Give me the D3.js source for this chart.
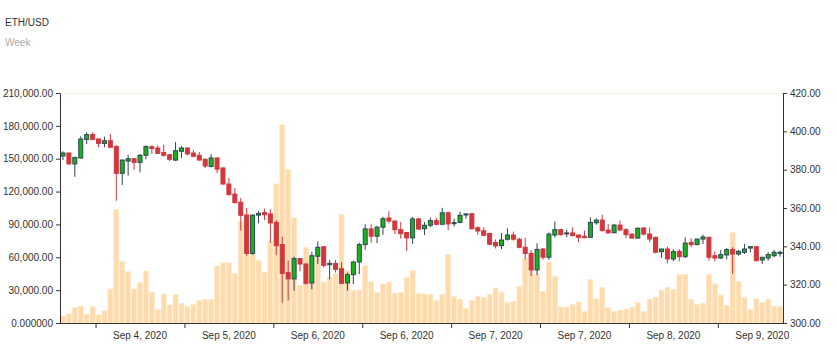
<!DOCTYPE html>
<html>
<head>
<meta charset="utf-8">
<script src="https://cdn.jsdelivr.net/npm/d3@7"></script>
<style>
  body { margin: 0; background: #fff; }
  text { font-family: "Liberation Sans", Arial, sans-serif; }
</style>
</head>
<body>
<div id="chart-container"></div>
<script>
const width = 837;
const height = 352;
const margin = { top: 93, right: 54, bottom: 29, left: 60 };

// price candles (USD)
const opens = [387.1,388.7,383.0,386.1,395.8,398.3,396.0,393.7,395.1,392.0,378.1,384.5,385.7,383.8,387.5,392.0,391.3,388.9,387.8,385.0,389.6,391.3,388.7,387.5,385.4,381.7,386.1,380.9,372.5,367.3,363.0,356.3,336.3,356.3,357.6,356.9,352.5,340.9,326.3,323.0,333.6,330.8,320.9,334.8,339.8,330.4,331.1,328.3,320.9,325.2,331.8,340.9,349.1,345.3,350.0,354.8,353.2,348.7,347.2,344.4,354.3,349.2,351.0,353.4,351.5,357.5,351.8,352.5,356.4,357.0,349.7,348.1,346.7,342.0,340.4,343.7,345.9,343.7,339.5,336.3,327.7,338.6,334.3,345.9,348.7,346.9,347.0,345.9,345.2,344.7,352.3,353.7,348.5,347.1,351.1,348.7,346.4,344.3,349.6,346.4,344.7,337.2,338.6,333.4,337.4,334.6,342.1,340.9,343.8,344.7,335.1,333.9,335.5,338.3,336.0,336.9,339.1,339.8,332.9,333.9,335.1,336.3];
const highs = [389.6,388.9,386.6,397.4,399.5,399.5,396.2,397.2,398.6,393.0,385.3,387.8,385.9,388.2,392.7,392.7,392.7,393.0,388.2,394.4,392.3,391.7,390.3,389.2,385.9,388.2,386.4,381.2,375.7,370.4,365.2,360.0,356.5,358.3,359.7,359.3,353.7,345.0,332.5,334.6,333.9,331.1,337.2,342.6,339.8,332.9,332.9,331.8,326.3,332.5,341.9,351.5,351.5,350.6,355.4,358.3,353.6,352.7,347.5,355.3,354.9,352.7,355.0,354.9,360.1,358.1,354.5,358.2,357.1,357.4,350.4,349.9,347.2,343.6,346.9,349.4,347.7,344.5,344.5,338.1,341.6,339.1,347.3,352.9,348.9,348.5,349.9,346.1,348.2,355.1,354.6,356.5,351.7,351.7,353.4,349.4,346.6,349.9,349.9,349.9,345.0,338.8,339.8,338.6,338.6,344.7,344.2,344.0,346.1,345.0,337.4,338.1,339.1,339.5,338.1,341.2,339.8,340.0,334.3,336.9,338.1,337.7];
const lows = [385.0,382.6,376.3,385.8,393.4,395.5,391.7,391.7,391.5,363.8,372.0,376.9,380.0,378.6,385.4,388.2,388.2,386.8,384.5,384.5,386.1,387.5,386.4,384.7,380.9,381.2,378.1,372.2,366.4,362.4,348.2,335.1,335.7,352.0,353.7,341.9,335.5,310.6,311.7,316.9,327.0,320.0,317.6,330.8,329.0,322.8,326.3,320.3,316.9,320.3,325.5,338.2,341.8,341.7,346.0,352.0,346.5,344.0,337.6,341.2,348.5,345.9,350.0,350.9,351.4,348.5,350.4,352.0,354.5,348.7,346.0,345.2,340.6,338.9,338.6,343.0,343.0,339.0,333.2,324.5,325.0,332.9,332.9,344.7,345.6,344.7,345.2,342.1,344.2,344.7,351.3,347.7,346.8,346.8,348.2,344.3,344.2,344.0,345.7,342.1,336.3,333.9,331.1,332.2,332.2,333.9,339.5,340.6,341.2,332.5,332.2,333.4,333.2,325.6,335.1,336.0,336.9,332.2,330.8,332.5,334.3,334.6];
const closes = [388.7,383.0,386.4,396.0,398.3,395.8,393.7,395.1,391.7,378.1,385.0,385.7,383.8,387.5,392.0,391.0,388.5,387.5,385.4,389.9,391.3,388.2,387.0,385.0,381.9,386.1,380.3,372.5,367.0,362.8,356.2,336.3,356.3,357.2,356.5,352.2,340.3,325.9,323.0,333.6,330.8,320.7,335.1,339.5,330.1,331.1,328.0,320.7,325.2,331.8,340.9,349.1,345.3,350.0,354.4,353.2,348.7,346.6,344.4,354.3,349.0,351.0,353.4,351.5,357.5,351.7,352.4,356.2,356.9,349.2,348.0,345.8,341.1,340.2,343.3,345.9,343.7,339.5,336.3,327.7,338.4,334.3,346.4,348.7,346.1,347.0,345.6,344.7,344.5,352.5,353.7,348.2,347.0,351.1,348.5,346.1,344.3,349.4,346.4,343.8,336.9,338.6,333.4,337.2,334.6,341.7,340.9,343.8,344.9,334.3,333.9,335.7,338.3,336.0,337.4,338.6,339.8,332.5,334.3,335.7,336.9,336.9];
// traded volume
const volumes = [6500,8500,14000,15500,8000,15000,7500,11000,31000,103500,56500,47000,31000,37000,47500,28000,12000,26500,16500,25800,18000,15000,17000,20500,21500,21500,52000,55000,55000,45000,93000,99500,72000,57000,46500,74500,127000,181000,140000,96000,34500,69000,38000,60000,37500,41500,45000,99000,47800,29500,30100,52600,37700,27700,35600,37400,27100,27700,41700,48100,26800,26500,25900,20400,25900,62400,24300,21600,13100,20400,24300,23400,26200,32000,28000,18900,19800,33500,59000,52000,44500,28800,55700,42600,14600,14600,17100,19200,10600,39600,21900,32400,14000,10800,11600,12700,14300,18900,10600,21900,23700,29700,32400,30700,44300,44300,21700,17000,17800,44300,35700,25600,16100,82700,38100,23500,12000,22500,18900,21600,15200,15000];

const tickLabels = ["Sep 4, 2020","Sep 5, 2020","Sep 6, 2020","Sep 6, 2020","Sep 7, 2020","Sep 7, 2020","Sep 8, 2020","Sep 9, 2020"];
const volumeTicks = [0,30000,60000,90000,120000,150000,180000,210000];
const priceTicks = [300,320,340,360,380,400,420];

let data = opens.map((o, i) => ({
  i: i, open: o, high: highs[i], low: lows[i], close: closes[i], volume: volumes[i]
}));

const svg = d3.select("#chart-container")
  .append("svg")
  .attr("width", width)
  .attr("height", height);

svg.append("text").attr("x", 5).attr("y", 26)
  .style("font-size", "10px").style("fill", "#333").text("ETH/USD");
svg.append("text").attr("x", 5).attr("y", 46)
  .style("font-size", "10px").style("fill", "#aaa").text("Week");

let xScale = d3.scaleBand()
  .domain(data.map(d => d.i))
  .range([margin.left, width - margin.right])
  .padding(0);

let volScale = d3.scaleLinear()
  .domain([0, 210000])
  .range([height - margin.bottom, margin.top]);

let priceScale = d3.scaleLinear()
  .domain([300, 420])
  .range([height - margin.bottom, margin.top]);

const step = xScale.step();

// faint top border of the plot
svg.append("line")
  .attr("x1", margin.left).attr("x2", width - margin.right)
  .attr("y1", margin.top + 0.5).attr("y2", margin.top + 0.5)
  .style("stroke", "#fdf0e4");

/**
 * volume bars
 */
svg.append("g")
  .selectAll("rect")
  .data(data)
  .enter()
  .append("rect")
  .attr("x", d => xScale(d.i) + 0.5)
  .attr("y", d => volScale(d.volume))
  .attr("width", step - 1)
  .attr("height", d => volScale(0) - volScale(d.volume))
  .style("fill", "#ffdbab")
  .style("stroke", "#ffe8cc")
  .style("stroke-width", 0.6);

/**
 * candles
 */
let candles = svg.append("g")
  .selectAll("g")
  .data(data)
  .enter()
  .append("g");

const isUp = d => d.close >= d.open;

candles.append("line")
  .attr("x1", d => xScale(d.i) + step / 2)
  .attr("x2", d => xScale(d.i) + step / 2)
  .attr("y1", d => priceScale(d.high))
  .attr("y2", d => priceScale(d.low))
  .style("stroke", d => isUp(d) ? "#2f4554" : "#d1373d")
  .style("stroke-width", 1);

candles.append("rect")
  .attr("x", d => xScale(d.i) + step / 2 - 2)
  .attr("y", d => priceScale(Math.max(d.open, d.close)))
  .attr("width", 4)
  .attr("height", d => Math.max(1, Math.abs(priceScale(d.open) - priceScale(d.close))))
  .style("fill", d => isUp(d) ? "#16b516" : "#d1373d")
  .style("stroke", d => isUp(d) ? "#2f4554" : "#d1373d")
  .style("stroke-width", 1);

/**
 * axes
 */
let leftAxis = d3.axisLeft(volScale)
  .tickValues(volumeTicks)
  .tickSize(4)
  .tickSizeOuter(0)
  .tickFormat(d => d === 0 ? "0.000000" : d3.format(",.2f")(d));

let rightAxis = d3.axisRight(priceScale)
  .tickValues(priceTicks)
  .tickSize(4)
  .tickSizeOuter(0)
  .tickFormat(d3.format(".2f"));

svg.append("g")
  .attr("transform", "translate(" + margin.left + ",0)")
  .call(leftAxis);

svg.append("g")
  .attr("transform", "translate(" + (width - margin.right) + ",0)")
  .call(rightAxis);

// bottom axis: ticks on group boundaries, labels centred in each group
let groupStarts = tickLabels.map((t, k) => 6 + 15 * k);
let bottom = svg.append("g")
  .attr("transform", "translate(0," + (height - margin.bottom) + ")");

bottom.append("line")
  .attr("x1", margin.left).attr("x2", width - margin.right)
  .attr("y1", 0.5).attr("y2", 0.5)
  .style("stroke", "#333");

bottom.selectAll(".tick")
  .data(groupStarts)
  .enter()
  .append("line")
  .attr("x1", d => xScale(d) + 0.5)
  .attr("x2", d => xScale(d) + 0.5)
  .attr("y1", 0)
  .attr("y2", 5)
  .style("stroke", "#333");

bottom.selectAll(".lbl")
  .data(tickLabels)
  .enter()
  .append("text")
  .attr("x", (t, k) => xScale(groupStarts[k]) + step * 7.5)
  .attr("y", 16)
  .attr("text-anchor", "middle")
  .style("font-size", "10px")
  .style("fill", "#333")
  .text(t => t);

svg.selectAll(".domain").style("stroke", "#333");
svg.selectAll(".tick line").style("stroke", "#333");
svg.selectAll(".tick text")
  .style("font-size", "10px")
  .style("fill", "#333")
  .style("font-family", "'Liberation Sans', Arial, sans-serif");
</script>
</body>
</html>
